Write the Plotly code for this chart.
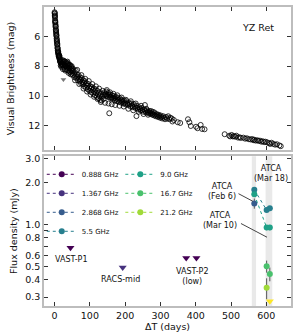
import math
import plotly.graph_objects as go

# ---------------- Visual light curve (day, mag) ----------------
lc_early = [(0.0,4.4),(0.3,4.5),(0.5,4.45),(0.6,4.6),(0.9,4.7),(1.0,4.65),(1.2,4.8),(1.5,4.95),
            (1.8,5.05),(2.0,5.0),(2.1,5.1),(2.4,5.2),(2.8,5.35),(3.0,5.3),(3.1,5.4),(3.5,5.55),
            (3.9,5.6),(4.0,5.65),(4.2,5.75),(4.6,5.8),(5.0,5.95),(5.2,5.9),(5.4,6.0),(5.8,6.15),
            (6.2,6.2),(6.4,6.3),(6.6,6.35),(7.0,6.4),(7.4,6.55),(7.6,6.5),(7.8,6.6),(8.2,6.75),
            (8.6,6.8),(8.8,6.85),(9.0,6.95),(9.5,7.0),(10.0,7.1),(10.2,7.15),(10.5,7.05),(11.0,7.2),
            (11.5,7.3),(11.8,7.35),(12.0,7.25),(12.6,7.4),(13.2,7.45),(13.5,7.3),(13.8,7.35),(14.4,7.55),
            (15.0,7.6),(15.3,7.7),(15.6,7.5),(16.2,7.7),(17.0,7.75),(17.4,7.95),(17.8,7.65),(18.6,7.85),
            (19.0,8.05),(19.4,7.9),(20.2,7.8)]
lc_bump = [(21,7.7),(21.5,7.95),(22,7.85),(23,7.6),(23.5,8.2),(24,7.95),(25,7.75),(26,8.1),(26.5,7.7),
           (27,7.65),(28,7.9),(29,8.2),(30,7.7),(30.5,8.3),(31,7.95),(32,8.0),(33,7.75),(33.5,8.1),
           (34,8.25),(35,7.85),(36,8.05),(36.5,7.7),(37,7.8),(38,8.3),(39,7.9),(39.5,8.45),(40,8.1),
           (41,8.0),(42,8.35),(42.5,7.9),(43,8.15),(44,7.95),(45,8.4),(45.5,8.55),(46,8.2),(47,8.05),
           (48,8.5),(48.5,8.0),(49,8.3),(50,8.15)]
lc_mid = [(51,8.35),(52,8.6),(53,8.2),(55,8.5),(56,8.75),(57,8.4),(58,8.95),(59,8.65),(60,8.3),(62,8.8),
          (63,8.55),(64,8.25),(65,8.7),(66,8.95),(68,8.6),(69,8.85),(70,9.2),(71,9.0),(72,8.75),(74,8.9),
          (75,9.15),(76,8.6),(77,8.8),(78,9.05),(80,9.2),(81,8.95),(82,9.5),(83,9.1),(84,9.35),(86,9.0),
          (87,8.85),(88,9.25),(89,9.45),(91,9.15),(92,9.7),(93,9.3),(94,9.55),(96,9.2),(97,9.0),(98,9.45),
          (99,9.65),(101,9.35),(102,9.9),(103,9.5),(104,9.75),(106,9.4),(107,9.2),(108,9.6),(110,9.85),
          (111,9.5),(112,10.05),(113,9.7),(115,9.95),(116,9.55),(117,9.35),(118,9.8),(120,10.05),(121,9.65),
          (122,10.2),(123,9.9),(125,10.15),(126,9.5),(127,9.75),(128,10.0),(130,10.25),(131,10.4),(132,9.85),
          (133,10.3),(135,10.05),(136,9.65),(137,9.9),(139,10.2)]
lc_late = [(141,9.75),(142,9.95),(143,10.45),(144,9.85),(146,10.0),(147,9.7),(148,9.6),(149,9.9),(151,10.05),
           (152,9.8),(153,10.5),(154,9.95),(155,11.15),(156,10.1),(157,9.75),(158,9.9),(159,10.05),(161,10.15),
           (162,10.55),(163,9.95),(164,10.1),(166,10.2),(167,9.85),(168,10.0),(170,10.15),(171,10.3),
           (172,10.6),(173,10.05),(175,10.2),(177,10.35),(178,9.95),(179,10.1),(181,10.25),(183,10.4),
           (184,10.65),(185,10.15),(187,10.3),(189,10.45),(190,10.1),(191,10.25),(193,10.35),(195,10.5),
           (196,10.7),(197,10.3),(199,10.45),(201,10.55),(202,10.25),(204,10.35),(206,10.5),(208,10.6),
           (209,10.85),(211,10.45),(213,10.55),(215,10.7),(216,10.35),(218,10.5),(220,10.65),(222,10.75),
           (223,10.95),(225,10.55),(227,10.7),(229,10.8),(230,10.5),(232,11.34),(233,10.65),(235,10.8),
           (237,10.9),(238,11.05),(240,10.75),(242,10.85),(244,10.95),(245,10.65),(247,10.8),(249,10.95),
           (251,11.05),(252,11.2),(254,10.9),(256,10.6),(257,11.0),(259,11.1),(260,10.85),(262,10.95),
           (264,11.05),(265,11.25),(266,11.15),(268,11.0),(270,11.1)]
lc_tail = [(272,11.2),(273,11.0),(275,11.15),(277,11.25),(278,11.05),(280,11.2),(282,11.3),(283,11.1),
           (285,11.25),(287,11.35),(289,11.2),(291,11.3),(293,11.4),(295,11.25),(297,11.35),(299,11.45),
           (301,11.3),(303,11.4),(305,11.5),(308,11.35),(310,11.45),(313,11.55),(316,11.4),(319,11.5),
           (322,11.35),(325,11.55),(328,11.45),(332,11.5),(334,11.7),(338,11.6),(349,11.75),(356,11.8),
           (378,11.55),(382,11.75),(386,12.0),(401,12.05),(405,12.15),(414,11.93),(418,12.2),(425,12.22),
           (482,12.55),(495,12.65),(498,12.7),(502,12.6),(505,12.7),(508,12.68),(512,12.72),(515,12.65),
           (520,12.78),(524,12.75),(528,12.8),(535,12.78),(540,12.85),(545,12.82),(550,12.88),(555,12.9),
           (560,12.87),(563,12.95),(566,12.92),(570,12.98),(574,12.95),(578,13.0),(582,12.98),(586,13.05),
           (590,13.02),(594,13.08),(598,13.05),(603,13.1),(608,13.15),(611,13.2),(615,13.12),(620,13.2),
           (625,13.25),(630,13.22),(637,13.3),(641,13.35)]

lc_points = lc_early + lc_bump + lc_mid + lc_late + lc_tail
lc_days = [p[0] for p in lc_points]
lc_mag = [p[1] for p in lc_points]

vis_limit_days = [25]
vis_limit_mag = [8.9]

# ---------------- Radio data ----------------
freq_labels = ["0.888 GHz", "1.367 GHz", "2.868 GHz", "5.5 GHz", "9.0 GHz", "16.7 GHz", "21.2 GHz"]
freq_colors = ["#440154", "#46327e", "#365c8d", "#277f8e", "#1fa187", "#4ac16d", "#a0da39"]

det_2868_days = [566]
det_2868_flux = [1.42]
det_2868_err = [0.12]

det_55_days = [566, 601, 610]
det_55_flux = [1.78, 1.27, 1.31]
det_55_err = [0.05, 0.04, 0.04]

det_90_days = [566, 601, 610]
det_90_flux = [1.65, 0.95, 0.95]
det_90_err = [0.05, 0.04, 0.04]

det_167_days = [601, 610]
det_167_flux = [0.50, 0.44]
det_167_err = [0.05, 0.05]

det_212_days = [601]
det_212_flux = [0.35]
det_212_err = [0.06]

ul_0888_days = [45, 373, 402]
ul_0888_flux = [0.68, 0.573, 0.573]
ul_1367_days = [193]
ul_1367_flux = [0.49]
ul_212_days = [610]
ul_212_flux = [0.28]

band_start = [559, 598]
band_end = [571, 617]

FONT = "DejaVu Sans"
FRAME = "#bdbdbd"
TICKC = "#333333"

fig = go.Figure()

# top panel
fig.add_trace(go.Scatter(x=lc_days, y=lc_mag, mode="markers", xaxis="x", yaxis="y",
                         marker=dict(symbol="circle-open", size=5, color="black", line=dict(width=0.8)),
                         showlegend=False, hoverinfo="skip"))
fig.add_trace(go.Scatter(x=vis_limit_days, y=vis_limit_mag, mode="markers", xaxis="x", yaxis="y",
                         marker=dict(symbol="triangle-down", size=5, color="#777777"),
                         showlegend=False))

# bottom panel: upper limits
def ul(days, flux, color):
    fig.add_trace(go.Scatter(x=days, y=flux, mode="markers", xaxis="x2", yaxis="y2",
                             marker=dict(symbol="triangle-down", size=7, color=color),
                             showlegend=False))

ul(ul_0888_days, ul_0888_flux, freq_colors[0])
ul(ul_1367_days, ul_1367_flux, freq_colors[1])
ul(ul_212_days, ul_212_flux, "#fde725")

det_sets = [
    (None, None, None),
    (None, None, None),
    (det_2868_days, det_2868_flux, det_2868_err),
    (det_55_days, det_55_flux, det_55_err),
    (det_90_days, det_90_flux, det_90_err),
    (det_167_days, det_167_flux, det_167_err),
    (det_212_days, det_212_flux, det_212_err),
]

for i, (lab, col) in enumerate(zip(freq_labels, freq_colors)):
    d, f, e = det_sets[i]
    legend_name = "legend" if i < 4 else "legend2"
    if d is None:
        d, f, e = [None], [None], None
    kw = {}
    if e is not None:
        kw["error_y"] = dict(type="data", array=e, color="#555555", thickness=1, width=0)
    fig.add_trace(go.Scatter(x=d, y=f, mode="lines+markers", xaxis="x2", yaxis="y2",
                             name=lab, legend=legend_name,
                             line=dict(color=col, width=1, dash="dot"),
                             marker=dict(symbol="circle", size=6, color=col),
                             **kw))

# shaded bands
shapes = []
for s, e in zip(band_start, band_end):
    shapes.append(dict(type="rect", xref="x2", yref="y2 domain", x0=s, x1=e, y0=0, y1=1,
                       fillcolor="#e9e9e9", line=dict(width=0), layer="below"))

L = math.log10
ann_font = dict(family=FONT, size=8, color="#111111")
annotations = [
    dict(text="YZ Ret", xref="x domain", yref="y domain", x=0.868, y=0.86, showarrow=False,
         xanchor="center", yanchor="middle",
         font=dict(family=FONT, size=9.5, color="#111111")),
    dict(text="VAST-P1", xref="x2", yref="y2", x=47, y=L(0.564), showarrow=False, font=ann_font),
    dict(text="RACS-mid", xref="x2", yref="y2", x=186, y=L(0.40), showarrow=False, font=ann_font),
    dict(text="VAST-P2<br>(low)", xref="x2", yref="y2", x=389, y=L(0.42), showarrow=False, font=ann_font),
    dict(text="ATCA<br>(Feb 6)", xref="x2", yref="y2", x=474, y=L(1.73), showarrow=False, font=ann_font),
    dict(text="ATCA<br>(Mar 10)", xref="x2", yref="y2", x=470, y=L(1.07), showarrow=False, font=ann_font),
    dict(text="ATCA<br>(Mar 18)", xref="x2", yref="y2", x=613, y=L(2.35), showarrow=False, font=ann_font),
    dict(text="", xref="x2", yref="y2", axref="x2", ayref="y2", x=562, y=L(1.47), ax=517, ay=L(1.69),
         showarrow=True, arrowhead=0, arrowwidth=1, arrowcolor="#444444"),
    dict(text="", xref="x2", yref="y2", axref="x2", ayref="y2", x=602, y=L(0.81), ax=524, ay=L(1.03),
         showarrow=True, arrowhead=0, arrowwidth=1, arrowcolor="#444444"),
]

xticks = [0, 100, 200, 300, 400, 500, 600]
common_x = dict(range=[-30, 670], tickvals=xticks, ticks="inside", ticklen=4, tickcolor=TICKC,
                showline=True, linecolor=FRAME, linewidth=1.5, mirror="ticks",
                showgrid=False, zeroline=False)
common_y = dict(ticks="inside", ticklen=4, tickcolor=TICKC, showline=True, linecolor=FRAME,
                linewidth=1.5, mirror="ticks", showgrid=False, zeroline=False)

flux_ticks = [0.3, 0.4, 0.5, 0.6, 0.7, 0.8, 0.9, 1.0, 2.0, 3.0]
flux_ticktext = ["0.3", "0.4", "0.5", "0.6", "", "0.8", "", "1.0", "2.0", "3.0"]

fig.update_layout(
    width=296, height=335,
    margin=dict(l=44, r=3, t=4, b=29),
    paper_bgcolor="white", plot_bgcolor="white",
    font=dict(family=FONT, size=9.5, color="#111111"),
    xaxis=dict(anchor="y", domain=[0, 1], showticklabels=False, **common_x),
    yaxis=dict(anchor="x", domain=[0.522, 1], range=[13.6, 4.05], tickvals=[6, 8, 10, 12],
               title=dict(text="Visual Brightness (mag)", standoff=12, font=dict(size=9.5)), **common_y),
    xaxis2=dict(anchor="y2", domain=[0, 1], title=dict(text="ΔT (days)", standoff=1, font=dict(size=9.5)),
                **common_x),
    yaxis2=dict(anchor="x2", domain=[0, 0.5007], type="log", range=[L(0.259), L(3.1)],
                tickvals=flux_ticks, ticktext=flux_ticktext,
                title=dict(text="Flux density (mJy)", standoff=6, font=dict(size=9.5)), **common_y),
    legend=dict(x=-0.009, y=0.489, xanchor="left", yanchor="top", bgcolor="rgba(0,0,0,0)",
                font=dict(family=FONT, size=7), tracegroupgap=0),
    legend2=dict(x=0.309, y=0.489, xanchor="left", yanchor="top", bgcolor="rgba(0,0,0,0)",
                 font=dict(family=FONT, size=7), tracegroupgap=0),
    shapes=shapes,
    annotations=annotations,
)

fig.write_html("out.html", config={"displayModeBar": False},
               post_script="document.body.style.margin='0';document.body.style.overflow='hidden';")
